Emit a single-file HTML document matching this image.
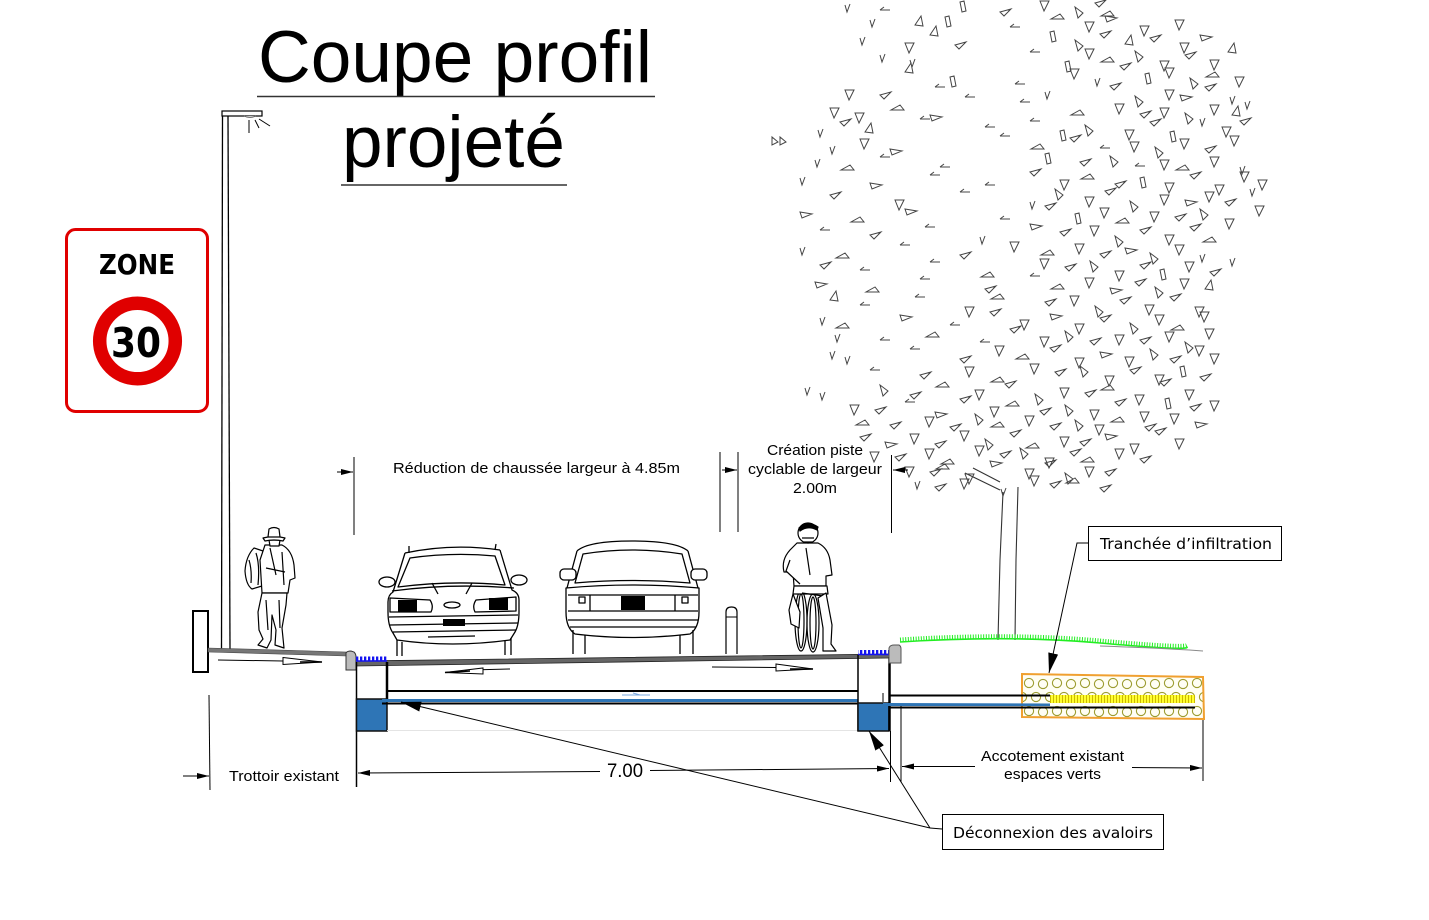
<!DOCTYPE html>
<html><head><meta charset="utf-8"><style>
html,body{margin:0;padding:0;background:#fff;}
svg{display:block;}
.t{font-family:"Liberation Sans",Arial,sans-serif;fill:#000;}
.d{font-family:"DejaVu Sans",Verdana,sans-serif;fill:#000;}
</style></head><body>
<svg xmlns="http://www.w3.org/2000/svg" width="1429" height="920" viewBox="0 0 1429 920">
<defs>
<marker id="a" markerWidth="12" markerHeight="6" refX="12" refY="3" orient="auto" markerUnits="userSpaceOnUse"><path d="M0 0 L12 3 L0 6 Z" fill="#000"/></marker>
<marker id="b" markerWidth="20" markerHeight="10" refX="20" refY="5" orient="auto" markerUnits="userSpaceOnUse"><path d="M0 0 L20 5 L0 10 Z" fill="#000"/></marker>
<pattern id="tk" width="4" height="6" patternUnits="userSpaceOnUse"><rect width="2.3" height="6" fill="#1414f0"/></pattern>
<pattern id="yh" width="3" height="8" patternUnits="userSpaceOnUse"><rect width="3" height="8" fill="#ffff30"/><rect width="1" height="8" fill="#cdb800"/></pattern>
<pattern id="hx" x="1022" y="676" width="28" height="28" patternUnits="userSpaceOnUse">
<rect width="28" height="28" fill="#fffef4"/>
<g fill="none" stroke="#9c9c30" stroke-width="1.1">
<circle cx="7" cy="7" r="4.6"/><circle cx="21" cy="8" r="4.6"/>
<circle cx="0" cy="21" r="4.6"/><circle cx="14" cy="21" r="4.6"/><circle cx="28" cy="21" r="4.6"/>
</g></pattern>
</defs>
<rect width="1429" height="920" fill="#fff"/>

<!-- Title -->
<text class="t" x="258" y="82" font-size="73" textLength="394" lengthAdjust="spacingAndGlyphs">Coupe profil</text>
<line x1="257" y1="96.5" x2="655" y2="96.5" stroke="#333" stroke-width="1.4"/>
<text class="t" x="342" y="167" font-size="73" textLength="223" lengthAdjust="spacingAndGlyphs">projeté</text>
<line x1="341" y1="185" x2="567" y2="185" stroke="#333" stroke-width="1.4"/>

<!-- Zone 30 sign -->
<rect x="66.5" y="229.5" width="141" height="182" rx="9" fill="#fff" stroke="#e00000" stroke-width="3"/>
<text x="137" y="274" text-anchor="middle" font-family="DejaVu Sans,Verdana,sans-serif" font-weight="bold" font-size="28" textLength="76" lengthAdjust="spacingAndGlyphs">ZONE</text>
<circle cx="137.5" cy="341" r="37.8" fill="#fff" stroke="#e00000" stroke-width="13.5"/>
<text x="136" y="357" text-anchor="middle" font-family="DejaVu Sans,Verdana,sans-serif" font-weight="bold" font-size="41" textLength="50" lengthAdjust="spacingAndGlyphs">30</text>

<!-- Lamp post -->
<rect x="222" y="111" width="40" height="5" fill="#fff" stroke="#000" stroke-width="1.2"/>
<path d="M244 116 Q250 119 256 116" fill="#ccc" stroke="#555" stroke-width="0.8"/>
<line x1="222.5" y1="116" x2="221.5" y2="650" stroke="#000" stroke-width="1.3"/>
<line x1="228" y1="116" x2="230" y2="650" stroke="#000" stroke-width="1.3"/>
<line x1="249" y1="120" x2="249" y2="133" stroke="#000" stroke-width="1"/>
<line x1="255" y1="120" x2="259" y2="128" stroke="#000" stroke-width="1"/>
<line x1="259" y1="119" x2="270" y2="126" stroke="#000" stroke-width="1"/>

<!-- Left wall -->
<rect x="193" y="611" width="15" height="61" fill="#fff" stroke="#000" stroke-width="2"/>

<!-- Sidewalk -->
<path d="M208 648 L346 652 L346 656 L208 652 Z" fill="#777" stroke="#444" stroke-width="0.6"/>
<line x1="218" y1="660" x2="283" y2="661" stroke="#000" stroke-width="1"/>
<path d="M283 657.5 L322 662 L283 664.5 Z" fill="#fff" stroke="#000" stroke-width="1"/>
<line x1="300" y1="662" x2="322" y2="662" stroke="#000" stroke-width="1.5"/>
<path d="M346 670 L346 653 Q347 651 351 651 L354 652 Q356 654 356 657 L356 670 Z" fill="#bbb" stroke="#333" stroke-width="1"/>

<!-- Pedestrian -->
<g stroke="#000" stroke-width="1.2" fill="#fff" stroke-linejoin="round">
<path d="M254 548 Q246 556 245 571 Q246 585 252 589 L262 586 L266 552 Z"/>
<path d="M249 560 Q252 570 251 583 M256 553 Q260 565 258 585"/>
<path d="M265 545 L282 545 Q292 550 294 565 L295 578 L290 580 L288 593 L262 593 L260 560 Z"/>
<path d="M270 548 L276 575 M282 552 L284 585 M266 568 L285 572"/>
<path d="M262 593 L258 612 L259 630 L263 639 L258 645 L267 648 L271 640 L272 615 L276 630 L275 645 L284 648 L282 628 L286 605 L287 593 Z"/>
<path d="M266 600 L268 630 M279 600 L280 628"/>
<path d="M269 540 L280 540 L279 546 L270 546 Z"/>
<path d="M263 538 Q274 535 285 538 L283 541 Q274 539 265 541 Z"/>
<path d="M268 537 L269 529 Q274 526 279 529 L280 537 Z"/>
</g>

<!-- Car 1 -->
<g fill="none" stroke="#000" stroke-width="1.3" stroke-linejoin="round">
<path d="M405 553 Q452 543 500 550"/>
<path d="M409 553 L409 546 M495 550 L496 544"/>
<path d="M405 553 L393 592 Q388 595 388 602 L388 612 Q388 626 393 633 L397 640 Q452 648 510 640 L515 632 Q519 625 519 612 L519 600 Q519 593 512 590 L500 550"/>
<path d="M410 558 Q452 552 495 556 L505 585 Q452 580 398 587 Z"/>
<ellipse cx="387" cy="582" rx="8" ry="5" fill="#fff"/>
<ellipse cx="519" cy="580" rx="8" ry="5" fill="#fff"/>
<path d="M392 591 Q452 583 514 588"/>
<path d="M390 598 L430 600 Q434 606 431 612 L390 612 Z M516 597 L476 600 Q472 606 475 612 L516 611 Z"/>
<path d="M432 583 L438 594 M472 583 L466 594"/>
<ellipse cx="452" cy="605" rx="8" ry="3"/>
<path d="M389 617 L518 615 M390 625 L518 623 M393 632 L516 630 M428 637 L475 636"/>
<path d="M397 640 L397 656 M402 642 L402 656 M505 641 L505 655 M511 638 L511 655"/>
</g>
<rect x="398" y="600" width="19" height="12" fill="#000"/>
<rect x="489" y="598" width="19" height="12" fill="#000"/>
<rect x="443" y="619" width="22" height="7" fill="#000"/>

<!-- Car 2 -->
<g fill="none" stroke="#000" stroke-width="1.3" stroke-linejoin="round">
<path d="M577 551 Q588 541 632 541 Q676 541 688 551"/>
<path d="M577 551 L567 588 M688 551 L698 588"/>
<path d="M583 554 Q632 546 682 554 L690 583 Q632 578 575 583 Z"/>
<rect x="560" y="569" width="16" height="11" rx="4" fill="#fff"/>
<rect x="691" y="569" width="16" height="11" rx="4" fill="#fff"/>
<path d="M566 588 Q632 582 699 588 L699 612 Q699 628 690 634 Q632 641 575 634 Q566 628 566 612 Z"/>
<path d="M568 595 L698 595 M568 611 L698 611 M590 595 L590 611 M675 595 L675 611"/>
<rect x="579" y="597" width="6" height="6"/>
<rect x="682" y="597" width="6" height="6"/>
<path d="M568 620 L698 620 M570 627 L696 627"/>
<path d="M573 630 L573 654 M585 635 L585 654 M680 635 L680 654 M693 630 L693 654"/>
</g>
<rect x="621" y="596" width="24" height="14" fill="#000"/>

<!-- Bollard -->
<path d="M726 654 L726 612 Q726 607 731.5 607 Q737 607 737 612 L737 654" fill="#fff" stroke="#000" stroke-width="1.2"/>
<line x1="726" y1="617" x2="737" y2="617" stroke="#000" stroke-width="1"/>

<!-- Cyclist -->
<g stroke="#000" stroke-width="1.2" fill="#fff" stroke-linejoin="round">
<ellipse cx="801" cy="621" rx="6" ry="30" fill="none"/>
<ellipse cx="813" cy="623" rx="6" ry="29" fill="none"/>
<ellipse cx="801" cy="621" rx="3" ry="27" fill="none"/>
<ellipse cx="813" cy="623" rx="3" ry="26" fill="none"/>
<path d="M797 543 L818 543 Q828 548 830 560 L832 575 L826 576 L826 586 L794 586 L793 572 L784 572 Q781 560 790 550 Z"/>
<path d="M790 560 L786 571 L800 584 M806 548 L810 575"/>
<path d="M794 586 L827 586 L828 594 L793 594 Z"/>
<path d="M802 593 L823 596"/>
<path d="M793 594 L789 610 L791 624 L799 628 L800 612 Z"/>
<path d="M826 593 L832 625 L831 644 L836 651 L823 651 L823 628 L818 598 Z"/>
<circle cx="808" cy="533" r="10"/>
<path d="M799 528 Q808 520 818 527 L817 530 Q808 525 800 531 Z" fill="#000"/>
<path d="M802 538 L814 538 M804 542 L812 542"/>
</g>

<!-- Road -->
<path d="M356 661 L889 654 L889 658 L356 666 Z" fill="#666" stroke="#222" stroke-width="0.8"/>
<rect x="356" y="656.5" width="31" height="5" fill="url(#tk)"/>
<line x1="356" y1="661" x2="387" y2="661" stroke="#1414f0" stroke-width="1.5"/>
<rect x="858" y="650" width="31" height="5" fill="url(#tk)"/>
<line x1="858" y1="654.5" x2="889" y2="654.5" stroke="#1414f0" stroke-width="1.5"/>
<line x1="470" y1="670" x2="510" y2="669" stroke="#000" stroke-width="1"/>
<path d="M445 672.5 L483 668 L483 674 Z" fill="#fff" stroke="#000" stroke-width="1"/>
<line x1="445" y1="672.5" x2="470" y2="671" stroke="#000" stroke-width="1.5"/>
<line x1="712" y1="667" x2="776" y2="667.5" stroke="#000" stroke-width="1"/>
<path d="M776 664 L813 669 L776 671 Z" fill="#fff" stroke="#000" stroke-width="1"/>
<line x1="790" y1="669" x2="813" y2="669" stroke="#000" stroke-width="1.5"/>
<path d="M622 695 L650 695 M633 693 L640 695" stroke="#7aa8e0" stroke-width="1" fill="none"/>

<!-- Left structure -->
<line x1="356.5" y1="662" x2="356.5" y2="787" stroke="#000" stroke-width="1.5"/>
<line x1="387" y1="662" x2="387" y2="699" stroke="#000" stroke-width="2.5"/>
<line x1="387" y1="691" x2="858" y2="691" stroke="#000" stroke-width="2"/>
<rect x="356.5" y="699" width="30.5" height="32" fill="#2e75b6" stroke="#111" stroke-width="1.5"/>
<rect x="382" y="699" width="476" height="3" fill="#2e75b6"/>
<line x1="382" y1="703.5" x2="858" y2="703.5" stroke="#000" stroke-width="2"/>
<line x1="387" y1="730.5" x2="858" y2="730.5" stroke="#e4e4e4" stroke-width="1"/>

<!-- Right structure -->
<line x1="858" y1="655" x2="858" y2="731" stroke="#000" stroke-width="1.5"/>
<rect x="858" y="703" width="31" height="28" fill="#2e75b6" stroke="#111" stroke-width="1.5"/>
<line x1="889.5" y1="657" x2="889.5" y2="731" stroke="#000" stroke-width="2.5"/>
<path d="M889 663 L889 648 Q890 645 894 645 L899 645 Q901 646 901 649 L901 663 Z" fill="#bbb" stroke="#555" stroke-width="1"/>
<line x1="883" y1="693" x2="883" y2="702" stroke="#000" stroke-width="1"/>
<line x1="890.5" y1="731" x2="890.5" y2="782" stroke="#000" stroke-width="1"/>
<line x1="901" y1="704" x2="901" y2="782" stroke="#000" stroke-width="1"/>

<!-- Trench -->
<path d="M1022 674 L1203 677 L1204 719 L1022 717 Z" fill="url(#hx)" stroke="#f0a030" stroke-width="2"/>
<line x1="889" y1="695.5" x2="1050" y2="695.5" stroke="#000" stroke-width="2"/>
<path d="M883 703 L1050 703.5 L1050 706 L883 706 Z" fill="#2e75b6"/>
<rect x="1050" y="695" width="145" height="8" fill="url(#yh)"/>
<line x1="889" y1="707.5" x2="1195" y2="707.5" stroke="#000" stroke-width="2"/>

<!-- Tree trunk -->
<g fill="none" stroke="#333" stroke-width="1.1">
<path d="M1003 492 L1000 560 L998 640"/>
<path d="M1018 487 L1016 560 L1015 640"/>
<path d="M965 473 L1000 490 M973 468 L1000 482"/>
</g>
<!-- Foliage -->
<path fill="none" stroke="#444" stroke-width="1" d="
M845 5l2 7 3-8M880 10h10m-10 0l4-3M960 2l4-1 2 10-4 1zM1000 12l11-3-7 7zM1040 1l4 10 5-10zM1075 7l3 11 5-5zM1095 3l11-3-7 7zM1110 11l-9 5 13 0z
M870 20l2 7 3-8M915 25l6-9 2 10zM945 17l4-1 2 10-4 1zM1010 27h10m-10 0l4-3M1060 14l-9 5 13 0zM1085 22l4 10 5-10zM1105 16l12 2-10 4zM1140 26l4 10 5-10zM1175 20l4 10 5-10z
M860 38l2 7 3-8M905 43l4 10 5-10zM930 35l6-9 2 10zM955 45l11-3-7 7zM1050 32l4-1 2 10-4 1zM1075 40l3 11 5-5zM1100 34l11-3-7 7zM1125 44l6-9 2 10zM1150 38l11-3-7 7zM1180 43l4 10 5-10zM1200 35l12 2-10 4z
M880 55l2 7 3-8M910 60l2 7 3-8M1030 52h10m-10 0l4-3M1065 62l4-1 2 10-4 1zM1085 49l4 10 5-10zM1110 57l-9 5 13 0zM1135 51l3 11 5-5zM1160 61l4 10 5-10zM1185 55l11-3-7 7zM1210 60l4 10 5-10zM1228 52l6-9 2 10z
M905 72l6-9 2 10zM950 77l4-1 2 10-4 1zM1070 69l4 10 5-10zM1095 79l2 7 3-8M1120 66l11-3-7 7zM1145 74l4-1 2 10-4 1zM1165 68l4 10 5-10zM1190 78l3 11 5-5zM1215 72l-9 5 13 0zM1235 77l4 10 5-10z
M845 90l4 10 5-10zM880 95l11-3-7 7zM935 87h10m-10 0l4-3M965 97h10m-10 0l4-3M1015 84h10m-10 0l4-3M1045 92l2 7 3-8M1110 86l11-3-7 7zM1135 96l3 11 5-5zM1165 90l4 10 5-10zM1180 95l12 2-10 4zM1205 87l11-3-7 7zM1230 97l2 7 3-8
M830 108l4 10 5-10zM855 113l4 10 5-10zM900 105l-9 5 13 0zM930 115l12 2-10 4zM1020 102h10m-10 0l4-3M1080 110l-9 5 13 0zM1115 104l4 10 5-10zM1140 114l11-3-7 7zM1160 108l4 10 5-10zM1185 113l3 11 5-5zM1210 105l4 10 5-10zM1232 115l6-9 2 10zM1245 102l2 7 3-8
M778 142l-6-5 0 8zM786 142l-6-5 0 8zM818 130l2 7 3-8M840 122l11-3-7 7zM865 132l6-9 2 10zM920 119h10m-10 0l4-3M985 127h10m-10 0l4-3M1030 121h10m-10 0l4-3M1060 131l4-1 2 10-4 1zM1085 125l3 11 5-5zM1125 130l4 10 5-10zM1150 122l11-3-7 7zM1170 132l4-1 2 10-4 1zM1200 119l2 7 3-8M1222 127l4 10 5-10zM1240 121l11-3-7 7z
M830 147l2 7 3-8M860 139l4 10 5-10zM890 149l12 2-10 4zM1000 136h10m-10 0l4-3M1040 144l-9 5 13 0zM1070 138l11-3-7 7zM1100 148h10m-10 0l4-3M1130 142l4 10 5-10zM1155 147l3 11 5-5zM1180 139l4 10 5-10zM1205 149l11-3-7 7zM1230 136l4 10 5-10z
M815 160l2 7 3-8M850 165l-9 5 13 0zM880 157h10m-10 0l4-3M940 167h10m-10 0l4-3M1045 154l4-1 2 10-4 1zM1080 162l11-3-7 7zM1110 156l3 11 5-5zM1135 166h10m-10 0l4-3M1160 160l4 10 5-10zM1185 165l-9 5 13 0zM1210 157l4 10 5-10zM1240 167l2 7 3-8
M800 178l2 7 3-8M870 183l12 2-10 4zM930 175h10m-10 0l4-3M985 185h10m-10 0l4-3M1030 172l11-3-7 7zM1060 180l4 10 5-10zM1090 174l-9 5 13 0zM1115 184l11-3-7 7zM1140 178l4-1 2 10-4 1zM1165 183l4 10 5-10zM1190 175l11-3-7 7zM1215 185l4 10 5-10zM1240 172l4 10 5-10zM1258 180l4 10 5-10z
M830 195l11-3-7 7zM895 200l4 10 5-10zM960 192h10m-10 0l4-3M1030 202l2 7 3-8M1055 189l3 11 5-5zM1085 197l4 10 5-10zM1105 191l11-3-7 7zM1130 201l3 11 5-5zM1160 195l4 10 5-10zM1185 200l12 2-10 4zM1205 192l4 10 5-10zM1225 202l11-3-7 7zM1250 189l2 7 3-8
M800 212l12 2-10 4zM860 217l-9 5 13 0zM905 209l12 2-10 4zM1000 219h10m-10 0l4-3M1045 206l11-3-7 7zM1075 214l4-1 2 10-4 1zM1100 208l4 10 5-10zM1125 218l-9 5 13 0zM1150 212l4 10 5-10zM1175 217l11-3-7 7zM1200 209l3 11 5-5zM1225 219l4 10 5-10zM1255 206l4 10 5-10z
M820 230h10m-10 0l4-3M870 235l11-3-7 7zM925 227h10m-10 0l4-3M980 237l2 7 3-8M1030 224l12 2-10 4zM1060 232l11-3-7 7zM1090 226l4 10 5-10zM1115 236l3 11 5-5zM1140 230l11-3-7 7zM1165 235l4 10 5-10zM1190 227l11-3-7 7zM1212 237l-9 5 13 0z
M800 248l2 7 3-8M845 253l-9 5 13 0zM900 245h10m-10 0l4-3M960 255l11-3-7 7zM1010 242l4 10 5-10zM1050 250l-9 5 13 0zM1075 244l4 10 5-10zM1100 254l11-3-7 7zM1125 248l12 2-10 4zM1150 253l3 11 5-5zM1175 245l4 10 5-10zM1200 255l2 7 3-8
M820 265l11-3-7 7zM860 270h10m-10 0l4-3M930 262h10m-10 0l4-3M990 272l-9 5 13 0zM1040 259l4 10 5-10zM1065 267l11-3-7 7zM1090 261l3 11 5-5zM1115 271l4 10 5-10zM1140 265l11-3-7 7zM1160 270l4-1 2 10-4 1zM1185 262l4 10 5-10zM1210 272l11-3-7 7zM1230 259l2 7 3-8
M815 282l12 2-10 4zM875 287l-9 5 13 0zM920 279h10m-10 0l4-3M985 289l11-3-7 7zM1030 276h10m-10 0l4-3M1060 284l-9 5 13 0zM1085 278l4 10 5-10zM1110 288l12 2-10 4zM1135 282l11-3-7 7zM1155 287l3 11 5-5zM1180 279l4 10 5-10zM1205 289l6-9 2 10z
M830 300l6-9 2 10zM860 305h10m-10 0l4-3M915 297h10m-10 0l4-3M965 307l4 10 5-10zM1000 294l-9 5 13 0zM1045 302l11-3-7 7zM1070 296l4 10 5-10zM1095 306l3 11 5-5zM1120 300l11-3-7 7zM1145 305l4 10 5-10zM1170 297l11-3-7 7zM1195 307l4 10 5-10z
M820 318l2 7 3-8M845 323l-9 5 13 0zM900 315l12 2-10 4zM950 325h10m-10 0l4-3M990 312l11-3-7 7zM1020 320l4 10 5-10zM1050 314l12 2-10 4zM1075 324l4 10 5-10zM1100 318l11-3-7 7zM1130 323l3 11 5-5zM1155 315l4 10 5-10zM1180 325l-9 5 13 0zM1200 312l4 10 5-10z
M835 335l2 7 3-8M880 340h10m-10 0l4-3M935 332l-9 5 13 0zM980 342h10m-10 0l4-3M1010 329l11-3-7 7zM1040 337l4 10 5-10zM1065 331l3 11 5-5zM1090 341l11-3-7 7zM1115 335l4 10 5-10zM1140 340l11-3-7 7zM1165 332l4 10 5-10zM1185 342l3 11 5-5zM1205 329l4 10 5-10z
M830 352l2 7 3-8M845 357l2 7 3-8M910 349h10m-10 0l4-3M960 359l11-3-7 7zM995 346l4 10 5-10zM1025 354l-9 5 13 0zM1050 348l11-3-7 7zM1075 358l4 10 5-10zM1100 352l12 2-10 4zM1125 357l4 10 5-10zM1150 349l3 11 5-5zM1170 359l11-3-7 7zM1195 346l4 10 5-10zM1210 354l4 10 5-10z
M870 370h10m-10 0l4-3M920 375l11-3-7 7zM965 367l4 10 5-10zM1000 377l-9 5 13 0zM1030 364l4 10 5-10zM1055 372l11-3-7 7zM1080 366l3 11 5-5zM1105 376l4 10 5-10zM1130 370l11-3-7 7zM1155 375l4 10 5-10zM1180 367l4-1 2 10-4 1zM1200 377l11-3-7 7z
M805 388l2 7 3-8M820 393l2 7 3-8M880 385l3 11 5-5zM910 395l11-3-7 7zM945 382l-9 5 13 0zM975 390l4 10 5-10zM1005 384l11-3-7 7zM1035 394l3 11 5-5zM1060 388l4 10 5-10zM1085 393l11-3-7 7zM1110 385l-9 5 13 0zM1135 395l4 10 5-10zM1160 382l11-3-7 7zM1185 390l4 10 5-10z
M850 405l4 10 5-10zM875 410l11-3-7 7zM905 402h10m-10 0l4-3M935 412l12 2-10 4zM960 399l11-3-7 7zM990 407l4 10 5-10zM1015 401l-9 5 13 0zM1040 411l11-3-7 7zM1065 405l3 11 5-5zM1090 410l4 10 5-10zM1115 402l11-3-7 7zM1140 412l4 10 5-10zM1165 399l4-1 2 10-4 1zM1190 407l11-3-7 7zM1210 401l4 10 5-10z
M865 420l-9 5 13 0zM890 425l11-3-7 7zM925 417l4 10 5-10zM950 427l11-3-7 7zM975 414l3 11 5-5zM1000 422l-9 5 13 0zM1025 416l4 10 5-10zM1050 426l11-3-7 7zM1075 420l3 11 5-5zM1095 425l4 10 5-10zM1120 417l-9 5 13 0zM1145 427l11-3-7 7zM1170 414l4 10 5-10zM1195 422l12 2-10 4z
M860 437l11-3-7 7zM885 442l12 2-10 4zM910 434l4 10 5-10zM935 444l11-3-7 7zM960 431l4 10 5-10zM985 439l3 11 5-5zM1010 433l11-3-7 7zM1035 443l-9 5 13 0zM1060 437l4 10 5-10zM1080 442l11-3-7 7zM1105 434l12 2-10 4zM1130 444l4 10 5-10zM1155 431l11-3-7 7zM1175 439l4 10 5-10z
M870 452l4 10 5-10zM895 457l11-3-7 7zM925 449l4 10 5-10zM950 459l-9 5 13 0zM975 446l4 10 5-10zM1000 454l11-3-7 7zM1020 448l3 11 5-5zM1045 458l4 10 5-10zM1070 452l11-3-7 7zM1090 457l-9 5 13 0zM1115 449l4 10 5-10zM1140 459l11-3-7 7z
M905 467l4 10 5-10zM930 472l11-3-7 7zM945 464l-9 5 13 0zM965 474l4 10 5-10zM990 461l12 2-10 4zM1025 469l4 10 5-10zM1045 463l11-3-7 7zM1065 473l3 11 5-5zM1085 467l4 10 5-10zM1105 472l11-3-7 7z
M915 482l2 7 3-8M935 487l11-3-7 7zM960 479l4 10 5-10zM1001 489l2 7 3-8M1030 476l4 10 5-10zM1050 484l11-3-7 7zM1075 478l-9 5 13 0zM1100 488l11-3-7 7z"/>

<!-- Grass -->
<path d="M900 642 Q1010 635 1100 643 T1187 647" fill="none" stroke="#22ee22" stroke-width="1.6"/>
<path d="M900 639.5 Q1010 632.5 1100 640.5 T1187 644.5" fill="none" stroke="#22ee22" stroke-width="4" stroke-dasharray="1 1.6"/>
<path d="M1100 646 Q1160 648 1203 651" fill="none" stroke="#8a8a8a" stroke-width="1"/>

<!-- Top dimensions -->
<g stroke="#000" stroke-width="1" fill="none">
<line x1="354" y1="457" x2="354" y2="535"/>
<line x1="337" y1="472" x2="353" y2="472" marker-end="url(#a)"/>
<line x1="720" y1="452" x2="720" y2="532"/>
<line x1="738" y1="452" x2="738" y2="532"/>
<line x1="722" y1="470" x2="737" y2="470" marker-end="url(#a)"/>
<line x1="891.5" y1="455" x2="891.5" y2="533"/>
<line x1="908" y1="470" x2="893" y2="470" marker-end="url(#a)"/>
</g>
<text class="t" x="393" y="473" font-size="14.5" textLength="287" lengthAdjust="spacingAndGlyphs">Réduction de chaussée largeur  à 4.85m</text>
<text class="t" x="815" y="455" font-size="14.5" text-anchor="middle" textLength="96" lengthAdjust="spacingAndGlyphs">Création piste</text>
<text class="t" x="815" y="474" font-size="14.5" text-anchor="middle" textLength="134" lengthAdjust="spacingAndGlyphs">cyclable de largeur</text>
<text class="t" x="815" y="493" font-size="14.5" text-anchor="middle" textLength="44" lengthAdjust="spacingAndGlyphs">2.00m</text>

<!-- Bottom dimensions -->
<g stroke="#000" stroke-width="1" fill="none">
<line x1="209" y1="695" x2="210" y2="790"/>
<line x1="183" y1="776" x2="209" y2="776" marker-end="url(#a)"/>
<line x1="600" y1="771.5" x2="358" y2="773" marker-end="url(#a)"/>
<line x1="650" y1="770.5" x2="889" y2="768.5" marker-end="url(#a)"/>
<line x1="975" y1="766.5" x2="902" y2="766.5" marker-end="url(#a)"/>
<line x1="1132" y1="767.5" x2="1202" y2="768" marker-end="url(#a)"/>
<line x1="1203" y1="720" x2="1203" y2="781"/>
</g>
<text class="t" x="229" y="781" font-size="14.5" textLength="110" lengthAdjust="spacingAndGlyphs">Trottoir existant</text>
<text class="t" x="607" y="777" font-size="19" textLength="36" lengthAdjust="spacingAndGlyphs">7.00</text>
<text class="t" x="981" y="761" font-size="14.5" textLength="143" lengthAdjust="spacingAndGlyphs">Accotement existant</text>
<text class="t" x="1004" y="779" font-size="14.5" textLength="97" lengthAdjust="spacingAndGlyphs">espaces verts</text>

<!-- Callout: Tranchée -->
<rect x="1088.5" y="526.5" width="193" height="34" fill="#fff" stroke="#000" stroke-width="1"/>
<text class="d" x="1100" y="549" font-size="15.5" textLength="172" lengthAdjust="spacingAndGlyphs">Tranchée d’infiltration</text>
<polyline points="1088,543 1077,543 1049,673" fill="none" stroke="#000" stroke-width="1" marker-end="url(#b)"/>

<!-- Callout: Déconnexion -->
<rect x="942.5" y="814.5" width="221" height="35" fill="#fff" stroke="#000" stroke-width="1"/>
<text class="d" x="953" y="838" font-size="15.5" textLength="200" lengthAdjust="spacingAndGlyphs">Déconnexion des avaloirs</text>
<g stroke="#000" stroke-width="1" fill="none">
<line x1="942" y1="829" x2="930" y2="828"/>
<line x1="930" y1="828" x2="401" y2="702" marker-end="url(#b)"/>
<line x1="930" y1="828" x2="869" y2="731" marker-end="url(#b)"/>
</g>
</svg>
</body></html>
